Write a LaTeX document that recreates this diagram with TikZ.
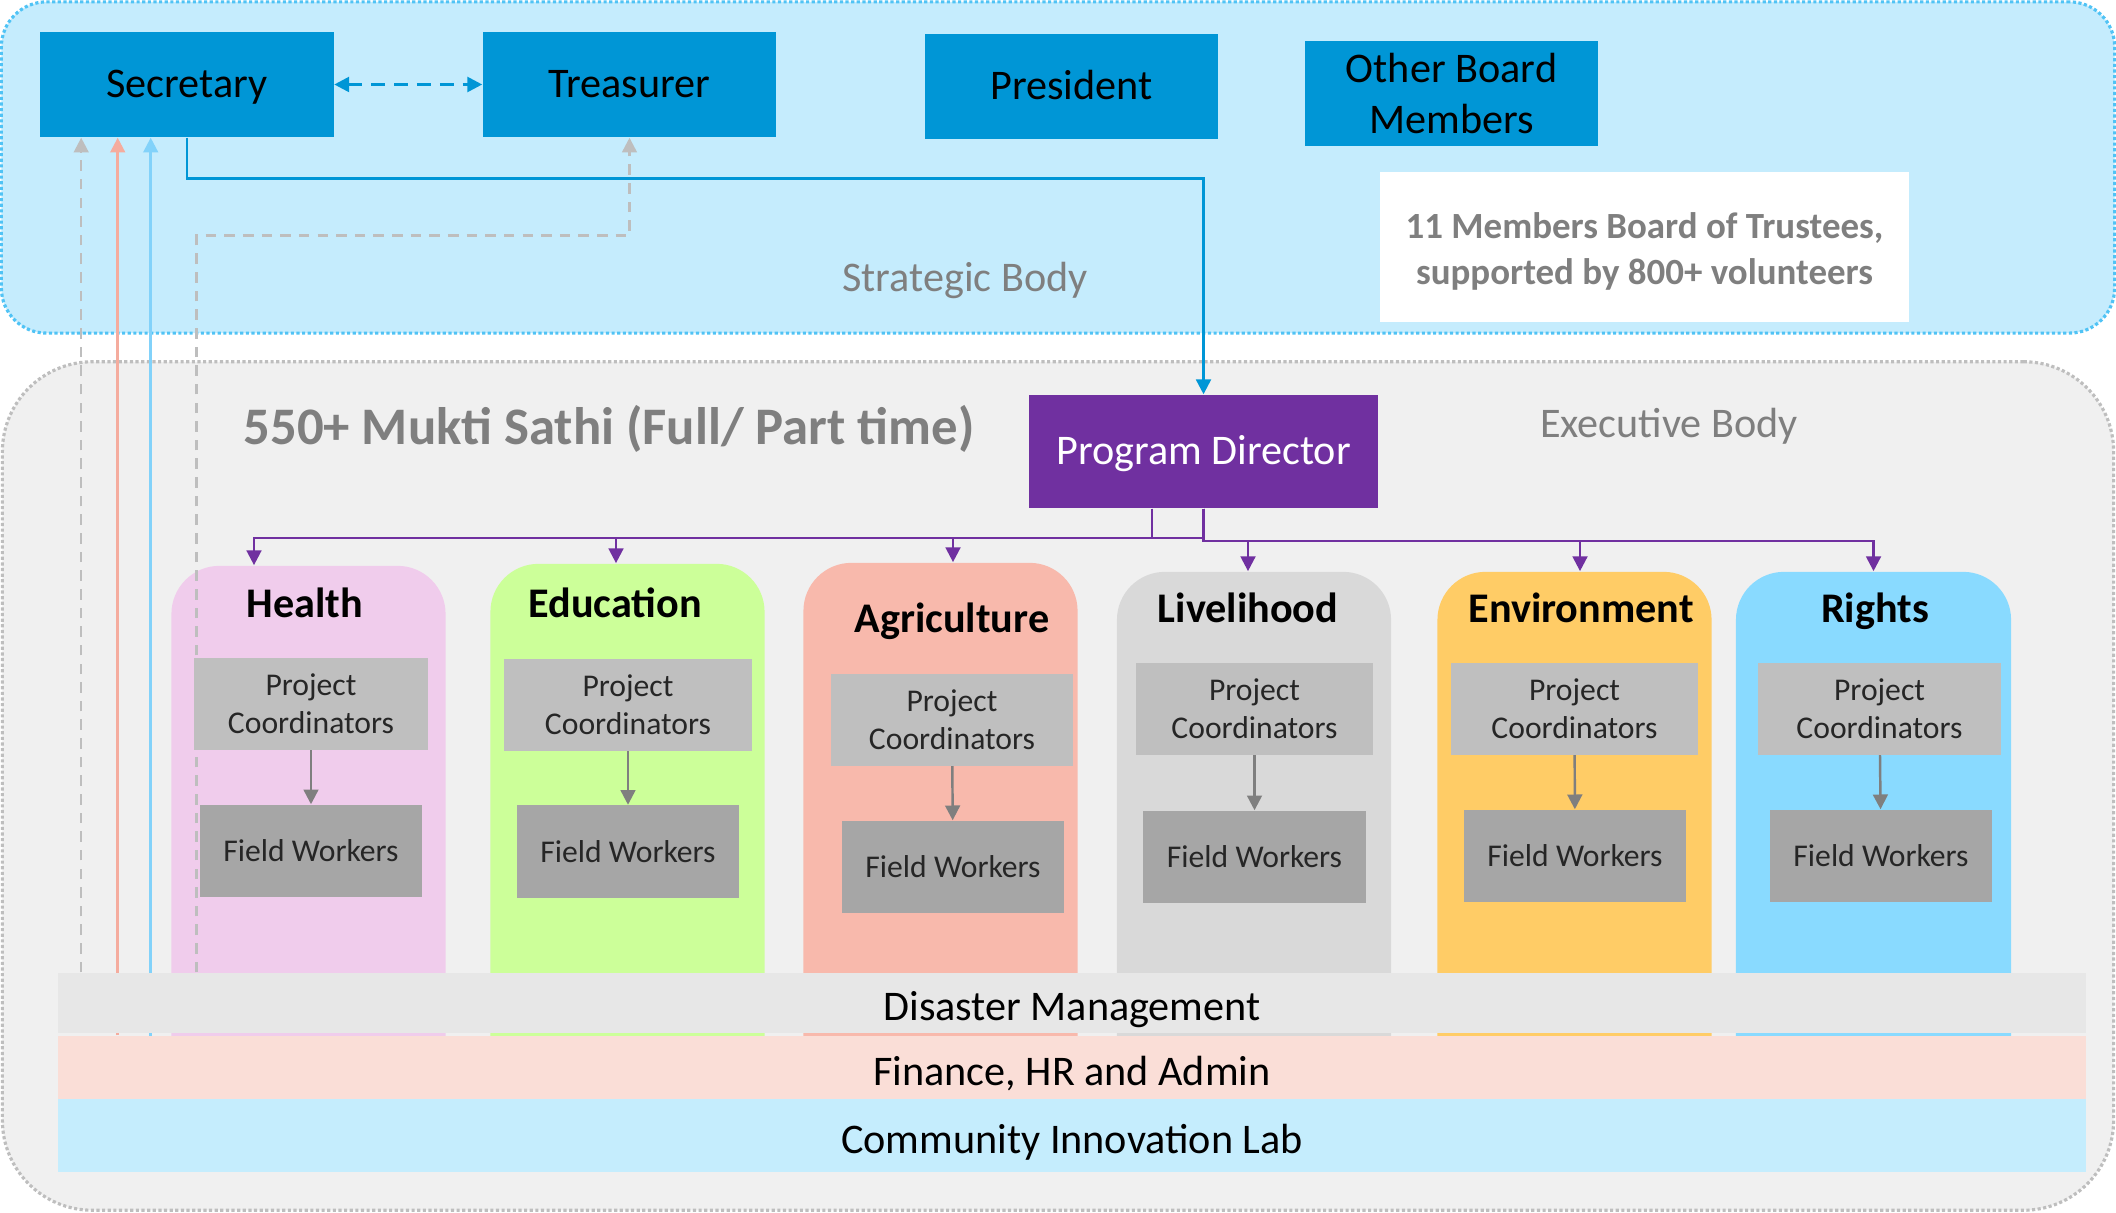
\documentclass[tikz,border=0pt]{standalone}
\usepackage{fontspec}
\setmainfont{Carlito}
\usetikzlibrary{arrows.meta,calc}
\definecolor{boardblue}{RGB}{0,150,214}
\definecolor{stratfill}{RGB}{197,236,253}
\definecolor{stratline}{RGB}{80,195,245}
\definecolor{execfill}{RGB}{240,240,240}
\definecolor{execline}{RGB}{190,190,190}
\definecolor{directorpurple}{RGB}{112,48,160}
\definecolor{healthpink}{RGB}{240,204,236}
\definecolor{edugreen}{RGB}{204,255,153}
\definecolor{agrisalmon}{RGB}{248,185,172}
\definecolor{livegray}{RGB}{217,217,217}
\definecolor{envorange}{RGB}{255,204,102}
\definecolor{rightsblue}{RGB}{137,218,255}
\definecolor{pcgray}{RGB}{191,191,191}
\definecolor{fwgray}{RGB}{166,166,166}
\definecolor{disastergray}{RGB}{231,231,231}
\definecolor{financepink}{RGB}{250,222,215}
\definecolor{labblue}{RGB}{197,237,253}
\definecolor{salmonline}{RGB}{245,172,158}
\definecolor{skyline}{RGB}{130,210,250}
\definecolor{textgray}{RGB}{127,127,127}
\pgfdeclarelayer{bg}
\pgfsetlayers{bg,main}

\begin{document}
\begin{tikzpicture}[x=0.01cm, y=-0.01cm,
    body/.style={line width=0.9pt, dash pattern=on 0.9pt off 0.7pt, inner sep=0pt},
    board/.style={fill=boardblue, minimum width=2.93cm, minimum height=1.05cm, align=center, inner sep=0pt, font=\fontsize{12}{14.5}\selectfont},
    oneline/.style={text height=9.5pt, text depth=2pt},
    panel/.style={rounded corners=0.48cm, minimum width=2.74cm, inner sep=0pt},
    dept/.style={anchor=base, font=\fontsize{12}{14}\selectfont\bfseries},
    pcbox/.style={fill=pcgray, minimum height=0.91cm, align=center, inner sep=0pt, text=black!85, font=\fontsize{9}{10.8}\selectfont},
    fwbox/.style={fill=fwgray, minimum width=2.22cm, minimum height=0.92cm, inner sep=0pt, text=black!85, font=\fontsize{9}{10.8}\selectfont},
    band/.style={minimum width=20.26cm, inner sep=0pt, text height=11pt, text depth=1pt, font=\fontsize{12}{14}\selectfont},
    bus/.style={draw=directorpurple, line width=0.7pt, -{Triangle[width=4.2pt,length=4.2pt]}},
    pcarrow/.style={draw=textgray, line width=0.7pt, -{Triangle[width=4.2pt,length=4.2pt]}},
    graylink/.style={draw=execline, line width=0.7pt, dash pattern=on 3pt off 2.3pt, -{Triangle[width=4.2pt,length=4.2pt]}}]
    \useasboundingbox (0,0) rectangle (2116,1213);

    \begin{pgfonlayer}{bg}
        \node[body, draw=stratline, fill=stratfill, rounded corners=0.45cm, minimum width=21.12cm, minimum height=3.31cm] (strategic) at (1058,167.5) {};
        \node[body, draw=execline, fill=execfill, rounded corners=0.9cm, minimum width=21.1cm, minimum height=8.48cm] (executive) at (1058,786) {};

        \node[panel, fill=healthpink, minimum height=5.33cm] (hpanel) at (308.5,832.5) {};
        \node[panel, fill=edugreen, minimum height=5.35cm] (epanel) at (627.5,831.5) {};
        \node[panel, fill=agrisalmon, minimum height=5.36cm] (apanel) at (940.5,831) {};
        \node[panel, fill=livegray, minimum height=5.27cm] (lpanel) at (1254,835.5) {};
        \node[panel, fill=envorange, minimum height=5.27cm] (enpanel) at (1574.5,835.5) {};
        \node[panel, fill=rightsblue, minimum height=5.27cm, minimum width=2.75cm] (rpanel) at (1873.5,835.5) {};
    \end{pgfonlayer}

    % strategic body
    \node[board, oneline] (sec) at (187,84.5) {Secretary};
    \node[board, oneline] (tre) at (629.5,84.5) {Treasurer};
    \node[board, oneline] (pres) at (1071.5,86.5) {President};
    \node[board] (obm) at (1451.5,93.5) {Other Board\\Members};
    \node[fill=white, minimum width=5.29cm, minimum height=1.5cm, align=center, inner sep=0pt, text=textgray,
          font=\fontsize{10.5}{13}\selectfont\bfseries] (note) at (1644.5,247) {\rule{0pt}{9.8pt}11 Members Board of Trustees,\\supported by 800+ volunteers};
    \node[anchor=base, text=textgray, font=\fontsize{12}{14}\selectfont] (stratlabel) at (965,292) {Strategic Body};

    % executive body
    \node[anchor=base, text=textgray, font=\fontsize{15}{18}\selectfont\bfseries] (mukti) at (609,445) {550+ Mukti Sathi (Full/ Part time)};
    \node[anchor=base, text=textgray, font=\fontsize{12}{14}\selectfont] (execlabel) at (1669,438) {Executive Body};
    \node[fill=directorpurple, text=white, minimum width=3.49cm, minimum height=1.13cm, inner sep=0pt, oneline,
          font=\fontsize{12}{14}\selectfont] (pd) at (1203.5,451.5) {Program Director};

    \node[dept] (health) at (305,617) {Health};
    \node[dept] (educ) at (615,617) {Education};
    \node[dept] (agri) at (952,633) {Agriculture};
    \node[dept] (live) at (1248,622) {Livelihood};
    \node[dept] (envi) at (1581,622) {Environment};
    \node[dept] (rights) at (1875,622) {Rights};

    \node[pcbox, minimum width=2.34cm] (hpc) at (311,704) {Project\\Coordinators};
    \node[pcbox, minimum width=2.48cm] (epc) at (628,705) {Project\\Coordinators};
    \node[pcbox, minimum width=2.42cm] (apc) at (952,720) {Project\\Coordinators};
    \node[pcbox, minimum width=2.37cm] (lpc) at (1254.5,709) {Project\\Coordinators};
    \node[pcbox, minimum width=2.47cm] (enpc) at (1574.5,709) {Project\\Coordinators};
    \node[pcbox, minimum width=2.43cm] (rpc) at (1879.5,709) {Project\\Coordinators};

    \node[fwbox] (hfw) at (311,851) {Field Workers};
    \node[fwbox] (efw) at (628,851.5) {Field Workers};
    \node[fwbox] (afw) at (953,867) {Field Workers};
    \node[fwbox] (lfw) at (1254.5,857) {Field Workers};
    \node[fwbox] (enfw) at (1575,856) {Field Workers};
    \node[fwbox] (rfw) at (1881,856) {Field Workers};

    \draw[pcarrow] (hpc) -- (hfw);
    \draw[pcarrow] (epc) -- (efw);
    \draw[pcarrow] (apc) -- (afw);
    \draw[pcarrow] (lpc) -- (lfw);
    \draw[pcarrow] (enpc) -- (enfw);
    \draw[pcarrow] (rpc) -- (rfw);

    \node[band, fill=disastergray, minimum height=0.6cm] (disaster) at (1072,1003) {Disaster Management};
    \node[band, fill=financepink, minimum height=0.63cm] (finance) at (1072,1067.5) {Finance, HR and Admin};
    \node[band, fill=labblue, minimum height=0.73cm] (lab) at (1072,1135.5) {Community Innovation Lab};

    % links
    \draw[draw=boardblue, line width=0.8pt, dash pattern=on 4pt off 2.5pt,
          {Triangle[width=4.2pt,length=4.2pt]}-{Triangle[width=4.2pt,length=4.2pt]}] (sec) -- (tre);

    \coordinate (g1) at ($(sec.south west)+(41.5,0)$);
    \coordinate (s1) at ($(sec.south west)+(78,0)$);
    \coordinate (b1) at ($(sec.south west)+(111,0)$);
    \coordinate (g2) at ($(sec.south west)+(157,0)$);

    \begin{pgfonlayer}{bg}
        \draw[draw=boardblue, line width=0.7pt, -{Triangle[width=4.2pt,length=4.2pt]}] (sec.south) -- ++(0,41) -| (pd.north);

        \draw[graylink] (disaster.north -| g1) -- (g1);
        \draw[draw=salmonline, line width=0.7pt, -{Triangle[width=4.2pt,length=4.2pt]}] (finance.north -| s1) -- (s1);
        \draw[draw=skyline, line width=0.7pt, -{Triangle[width=4.2pt,length=4.2pt]}] (lab.north -| b1) -- (b1);
        \draw[graylink] (disaster.north -| g2) |- ($(tre.south)+(0,98)$) -- (tre.south);

        \draw[bus] ($(pd.south)+(-51.5,0)$) -- ++(0,29) -| ($(hpanel.north)+(-54.5,0)$);
        \draw[bus] ($(pd.south)+(-51.5,0)$) -- ++(0,29) -| ($(epanel.north)+(-11.5,0)$);
        \draw[bus] (pd.south) -- ++(0,29) -| ($(apanel.north)+(12.5,0)$);
        \draw[bus] (pd.south) -- ++(0,32) -| ($(lpanel.north)+(-6,0)$);
        \draw[bus] (pd.south) -- ++(0,32) -| ($(enpanel.north)+(5.5,0)$);
        \draw[bus] (pd.south) -- ++(0,32) -| (rpanel.north);
    \end{pgfonlayer}
\end{tikzpicture}
\end{document}
